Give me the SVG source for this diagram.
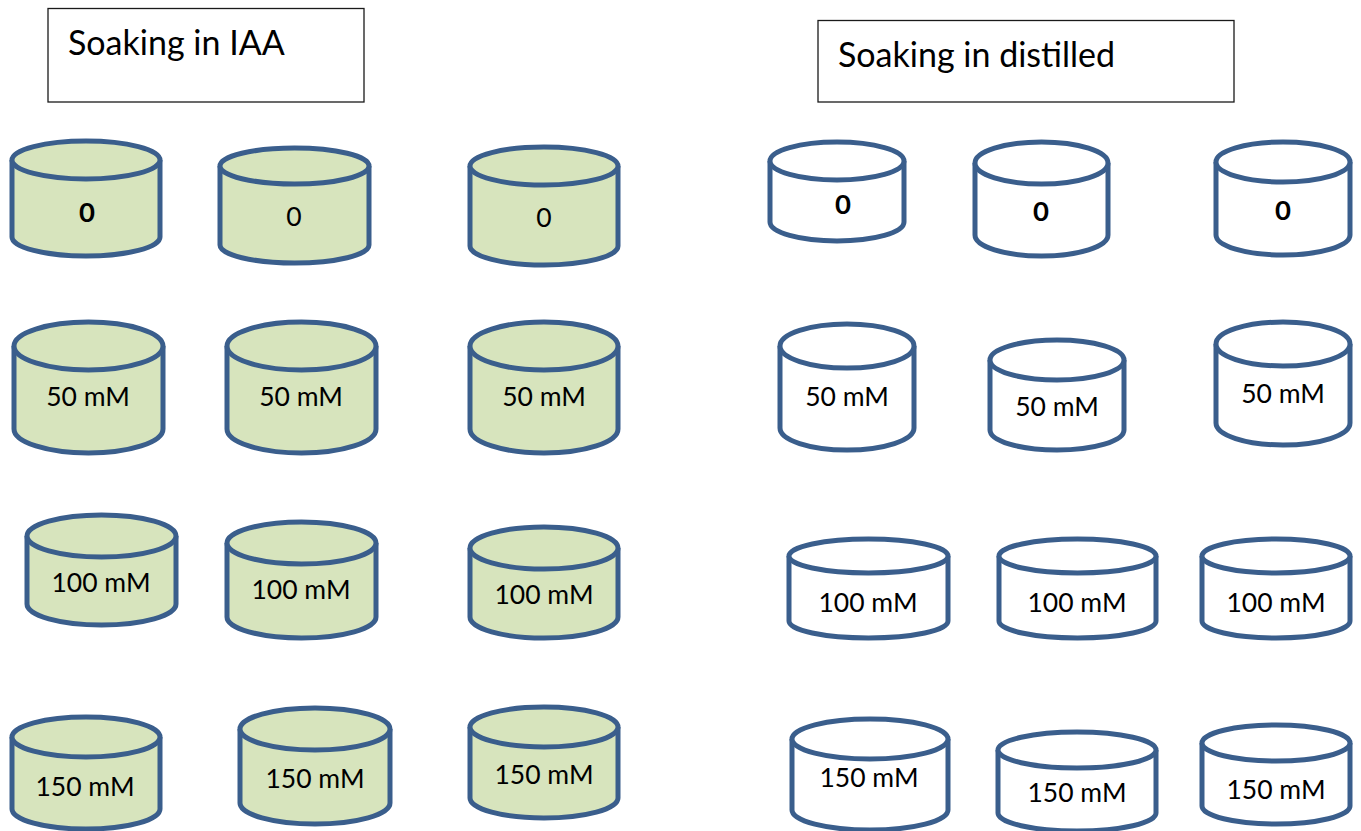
<svg xmlns="http://www.w3.org/2000/svg" width="1361" height="831" viewBox="0 0 1361 831">
<style>
.title rect{fill:#fff;stroke:#1a1a1a;stroke-width:1.3}
.title text{font-family:Lato,"Open Sans",sans-serif;font-size:34px;fill:#000}
.iaa path,.iaa ellipse{fill:#D7E4BD;stroke:#3A5E8C;stroke-width:5}
.dw path,.dw ellipse{fill:#fff;stroke:#3A5E8C;stroke-width:5}
.node text{font-family:Lato,"Open Sans",sans-serif;font-size:26.5px;fill:#000;text-anchor:middle}
.node text.b{font-weight:bold;font-size:27.5px}
</style>
<rect width="1361" height="831" fill="#fff"/>
<g id="title-iaa" class="title"><rect x="48" y="8.5" width="316" height="93.5"/><text x="68" y="55">Soaking in IAA</text></g>
<g id="title-distilled" class="title"><rect x="818" y="20.5" width="416" height="81.5"/><text x="838" y="67">Soaking in distilled</text></g>

<g id="iaa-0-a" class="node iaa"><path d="M12,160 V237 A74,19 0 0 0 160,237 V160"/><ellipse cx="86" cy="160" rx="74" ry="19"/><text class="b" x="87" y="222">0</text></g>
<g id="iaa-0-b" class="node iaa"><path d="M220,166 V245 A74.5,18 0 0 0 369,245 V166"/><ellipse cx="294.5" cy="166" rx="74.5" ry="18"/><text x="294" y="226">0</text></g>
<g id="iaa-0-c" class="node iaa"><path d="M470,166 V246 A74,19 0 0 0 618,246 V166"/><ellipse cx="544" cy="166" rx="74" ry="19"/><text x="544" y="227">0</text></g>

<g id="iaa-50-a" class="node iaa"><path d="M14,346 V429 A74.5,24 0 0 0 163,429 V346"/><ellipse cx="88.5" cy="346" rx="74.5" ry="24"/><text x="88" y="406">50 mM</text></g>
<g id="iaa-50-b" class="node iaa"><path d="M227,346 V429 A74.5,24 0 0 0 376,429 V346"/><ellipse cx="301.5" cy="346" rx="74.5" ry="24"/><text x="301" y="406">50 mM</text></g>
<g id="iaa-50-c" class="node iaa"><path d="M470,346 V429 A74,24 0 0 0 618,429 V346"/><ellipse cx="544" cy="346" rx="74" ry="24"/><text x="544" y="406">50 mM</text></g>

<g id="iaa-100-a" class="node iaa"><path d="M27,536 V604 A74.5,21 0 0 0 176,604 V536"/><ellipse cx="101.5" cy="536" rx="74.5" ry="21"/><text x="101" y="592">100 mM</text></g>
<g id="iaa-100-b" class="node iaa"><path d="M227,543 V617 A74.5,21 0 0 0 376,617 V543"/><ellipse cx="301.5" cy="543" rx="74.5" ry="21"/><text x="301" y="599">100 mM</text></g>
<g id="iaa-100-c" class="node iaa"><path d="M470,548 V617 A74,21 0 0 0 618,617 V548"/><ellipse cx="544" cy="548" rx="74" ry="21"/><text x="544" y="604">100 mM</text></g>

<g id="iaa-150-a" class="node iaa"><path d="M12,737 V809 A74,20 0 0 0 160,809 V737"/><ellipse cx="86" cy="737" rx="74" ry="20"/><text x="85" y="796">150 mM</text></g>
<g id="iaa-150-b" class="node iaa"><path d="M240,729 V803 A75,21 0 0 0 390,803 V729"/><ellipse cx="315" cy="729" rx="75" ry="21"/><text x="315" y="788">150 mM</text></g>
<g id="iaa-150-c" class="node iaa"><path d="M470,727 V798 A74,20 0 0 0 618,798 V727"/><ellipse cx="544" cy="727" rx="74" ry="20"/><text x="544" y="784">150 mM</text></g>

<g id="dw-0-a" class="node dw"><path d="M770,161 V222 A67,19 0 0 0 904,222 V161"/><ellipse cx="837" cy="161" rx="67" ry="19"/><text class="b" x="843" y="214">0</text></g>
<g id="dw-0-b" class="node dw"><path d="M975,163 V235 A66.5,21 0 0 0 1108,235 V163"/><ellipse cx="1041.5" cy="163" rx="66.5" ry="21"/><text class="b" x="1041" y="221">0</text></g>
<g id="dw-0-c" class="node dw"><path d="M1216,162 V235 A67,20 0 0 0 1350,235 V162"/><ellipse cx="1283" cy="162" rx="67" ry="20"/><text class="b" x="1283" y="220">0</text></g>

<g id="dw-50-a" class="node dw"><path d="M780,346 V428 A67,22 0 0 0 914,428 V346"/><ellipse cx="847" cy="346" rx="67" ry="22"/><text x="847" y="406">50 mM</text></g>
<g id="dw-50-b" class="node dw"><path d="M990,360 V430 A67,20 0 0 0 1124,430 V360"/><ellipse cx="1057" cy="360" rx="67" ry="20"/><text x="1057" y="416">50 mM</text></g>
<g id="dw-50-c" class="node dw"><path d="M1216,344 V423 A67,22 0 0 0 1350,423 V344"/><ellipse cx="1283" cy="344" rx="67" ry="22"/><text x="1283" y="403">50 mM</text></g>

<g id="dw-100-a" class="node dw"><path d="M789,556 V621 A79.5,17 0 0 0 948,621 V556"/><ellipse cx="868.5" cy="556" rx="79.5" ry="17"/><text x="868" y="612">100 mM</text></g>
<g id="dw-100-b" class="node dw"><path d="M999,556 V621 A78.5,17 0 0 0 1156,621 V556"/><ellipse cx="1077.5" cy="556" rx="78.5" ry="17"/><text x="1077" y="612">100 mM</text></g>
<g id="dw-100-c" class="node dw"><path d="M1202,556 V621 A74,17 0 0 0 1350,621 V556"/><ellipse cx="1276" cy="556" rx="74" ry="17"/><text x="1276" y="612">100 mM</text></g>

<g id="dw-150-a" class="node dw"><path d="M792,739 V810 A78,20 0 0 0 948,810 V739"/><ellipse cx="870" cy="739" rx="78" ry="20"/><text x="869" y="787">150 mM</text></g>
<g id="dw-150-b" class="node dw"><path d="M998,750 V813 A79,18 0 0 0 1156,813 V750"/><ellipse cx="1077" cy="750" rx="79" ry="18"/><text x="1077" y="802">150 mM</text></g>
<g id="dw-150-c" class="node dw"><path d="M1202,743 V806 A74,18 0 0 0 1350,806 V743"/><ellipse cx="1276" cy="743" rx="74" ry="18"/><text x="1276" y="799">150 mM</text></g>

<g id="connectors"/>
</svg>
